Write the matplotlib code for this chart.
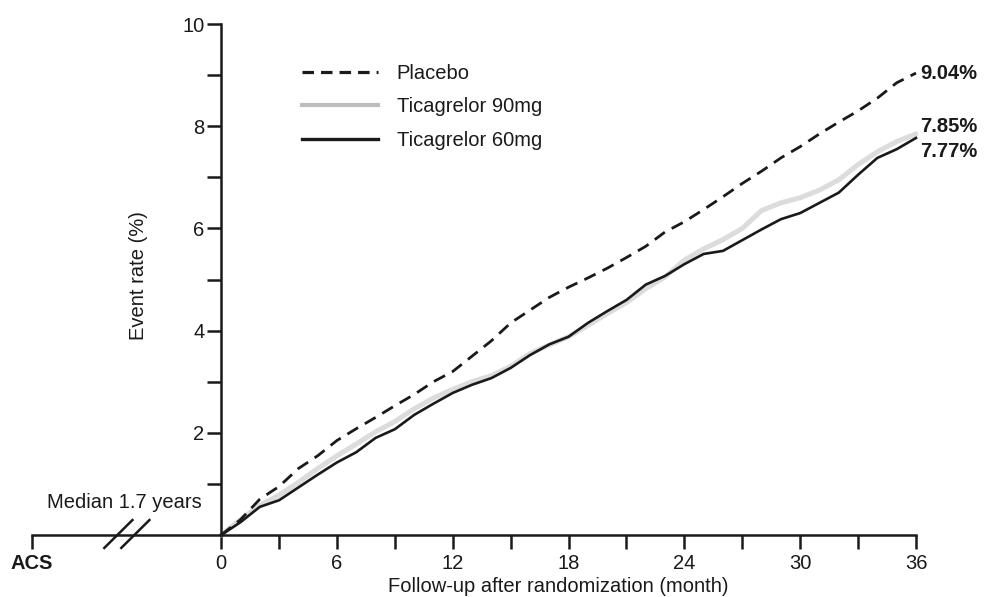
import matplotlib
matplotlib.use("Agg")
import matplotlib.pyplot as plt
from matplotlib.lines import Line2D

plt.rcParams['font.family'] = ['Liberation Sans', 'DejaVu Sans']

months = list(range(0, 37))
placebo = [0, 0.3, 0.7, 0.95, 1.3, 1.55, 1.85, 2.08, 2.3, 2.53, 2.75, 3.0, 3.2, 3.5, 3.8,
           4.15, 4.4, 4.65, 4.85, 5.03, 5.22, 5.43, 5.65, 5.93, 6.13, 6.37, 6.62, 6.88,
           7.12, 7.38, 7.6, 7.85, 8.08, 8.3, 8.55, 8.85, 9.04]
tica90 = [0, 0.3, 0.58, 0.78, 1.03, 1.3, 1.55, 1.78, 2.02, 2.22, 2.47, 2.68, 2.85, 3.0,
          3.12, 3.3, 3.55, 3.72, 3.88, 4.1, 4.33, 4.55, 4.82, 5.05, 5.38, 5.6, 5.78, 6.0,
          6.35, 6.5, 6.6, 6.75, 6.95, 7.25, 7.5, 7.7, 7.85]
tica60 = [0, 0.25, 0.55, 0.68, 0.93, 1.18, 1.42, 1.62, 1.9, 2.07, 2.35, 2.57, 2.78, 2.94,
          3.07, 3.27, 3.52, 3.73, 3.88, 4.15, 4.38, 4.6, 4.9, 5.07, 5.3, 5.5, 5.56, 5.77,
          5.98, 6.18, 6.3, 6.5, 6.7, 7.05, 7.38, 7.55, 7.77]
series_labels = ["Placebo", "Ticagrelor 90mg", "Ticagrelor 60mg"]
end_labels = ["9.04%", "7.85%", "7.77%"]
x_ticks = [0, 6, 12, 18, 24, 30, 36]
y_ticks = [2, 4, 6, 8, 10]

FS = 14.5
DARK = '#1a1a1a'
fig = plt.figure(figsize=(9.87, 5.97), dpi=100)
L, R = 32 / 987, 916 / 987
B, T = 1 - 535 / 597, 1 - 24 / 597
ax = fig.add_axes([L, B, R - L, T - B])
xmin = -9.8
ax.set_xlim(xmin, 36)
ax.set_ylim(0, 10)

ax.plot(months, tica90, color='#dcdcdc', lw=3.6, solid_capstyle='round', clip_on=False, zorder=2)
ax.plot(months, tica60, color=DARK, lw=1.9, clip_on=False, zorder=3)
ax.plot(months, placebo, color=DARK, lw=2.0, ls=(0, (4.5, 2.8)), clip_on=False, zorder=3)

for s in ['top', 'right']:
    ax.spines[s].set_visible(False)
ax.spines['left'].set_position(('data', 0))
ax.spines['left'].set_linewidth(1.8)
ax.spines['bottom'].set_linewidth(1.8)
ax.spines['left'].set_color(DARK)
ax.spines['bottom'].set_color(DARK)

ax.set_yticks(y_ticks)
ax.set_yticks([1, 3, 5, 7, 9], minor=True)
ax.set_yticklabels([str(v) for v in y_ticks])
ax.set_xticks([xmin] + x_ticks)
ax.set_xticklabels(["ACS"] + [str(v) for v in x_ticks])
ax.get_xticklabels()[0].set_fontweight('bold')
ax.set_xticks([3, 9, 15, 21, 27, 33], minor=True)
ax.tick_params(axis='both', which='both', direction='out', length=10, width=1.8,
               labelsize=FS, color=DARK, labelcolor=DARK)
ax.tick_params(axis='x', which='major', pad=4)
ax.tick_params(axis='y', which='major', pad=2)

ax.set_xlabel("Follow-up after randomization (month)", fontsize=FS, color=DARK)
ax.xaxis.set_label_coords((558 - 32) / (916 - 32), -0.082)
ax.set_ylabel("Event rate (%)", fontsize=FS, color=DARK)
ax.yaxis.set_label_coords((148 - 32) / (916 - 32), 0.507)

# legend
handles = [Line2D([], [], color=DARK, lw=2.3, ls=(0, (3.6, 2.2))),
           Line2D([], [], color='#bdbdbd', lw=3.0),
           Line2D([], [], color=DARK, lw=2.4)]
leg = ax.legend(handles, series_labels,
                loc='upper left', bbox_to_anchor=((284 - 32) / (916 - 32), 0.958),
                frameon=False, fontsize=FS, handlelength=3.75, handletextpad=0.95,
                labelspacing=0.72)
for t in leg.get_texts():
    t.set_color(DARK)

# end labels
for vals, lab, dy in zip([placebo, tica90, tica60], end_labels, [0, 5, -10]):
    ax.annotate(lab, xy=(36, vals[-1]), xytext=(3, dy), textcoords='offset points',
                fontsize=FS, fontweight='bold', va='center', ha='left', color=DARK,
                annotation_clip=False)

# median text and break marks
ax.text(-1.0, 0.64, "Median 1.7 years", fontsize=FS, ha='right', va='center', color=DARK)
for x0 in [-6.1, -5.22]:
    ax.plot([x0, x0 + 1.55], [-0.27, 0.31], color=DARK, lw=1.8, clip_on=False,
            solid_capstyle='butt')

fig.savefig("out.png", dpi=100)
